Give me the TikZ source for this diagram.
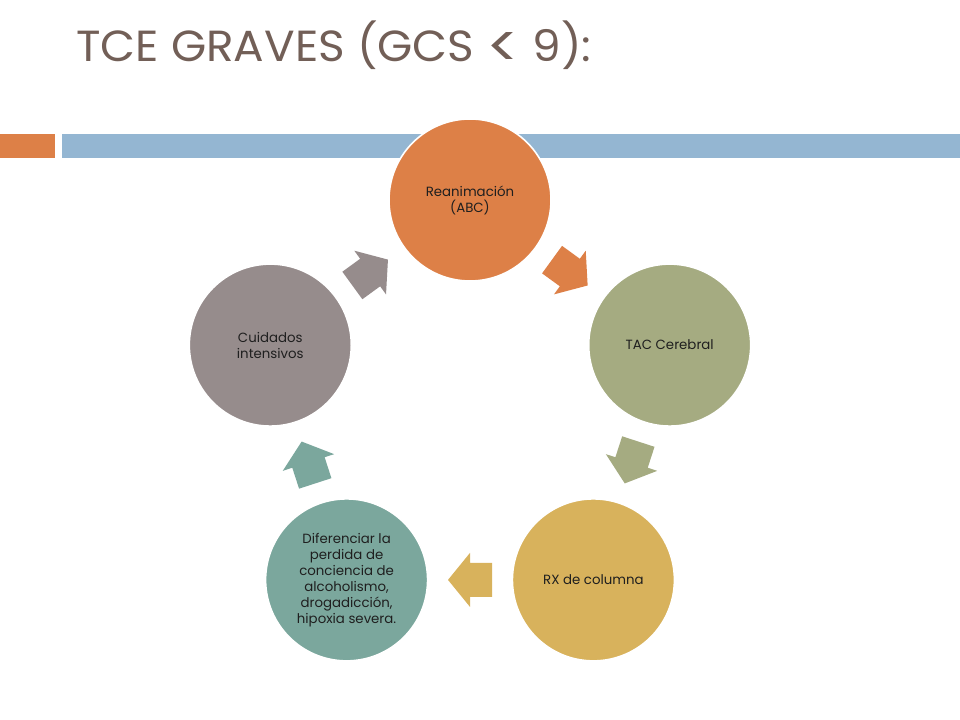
\documentclass[tikz,border=0pt]{standalone}
\usepackage{fontspec}
\setmainfont{Poppins}
\usetikzlibrary{calc}
\definecolor{cOrange}{HTML}{DD8047}
\definecolor{cGreen}{HTML}{A5AB81}
\definecolor{cYellow}{HTML}{D8B25C}
\definecolor{cTeal}{HTML}{7BA79D}
\definecolor{cGray}{HTML}{968C8C}
\definecolor{cBlue}{HTML}{94B6D2}
\definecolor{cTitle}{HTML}{725F57}
\tikzset{
  stepcircle/.style={circle, fill=#1, draw=white, line width=1.2pt,
    minimum size=121.5pt, inner sep=0pt, align=center,
    text=black!88, font=\fontsize{10}{12}\selectfont},
  blockarrow/.style={fill=#1}
}
\newcommand{\myblockarrow}[3]{%
  \fill[blockarrow=#3, shift={(#1)}, rotate=#2]
    (-22,-17) -- (0,-17) -- (0,-27) -- (22,0) -- (0,27) -- (0,17) -- (-22,17) -- cycle;}
\begin{document}
\begin{tikzpicture}[x=0.75pt,y=0.75pt]
\fill[white] (0,0) rectangle (960,720);
\useasboundingbox (0,0) rectangle (960,720);
% title
\node[anchor=base west, inner sep=0pt, text=cTitle] (title) at (76,658)
  {\resizebox{386.25pt}{30.5pt}{TCE GRAVES (GCS \raisebox{-0.12em}{\scalebox{1.35}{<}} 9):}};
% bars
\fill[cOrange] (0,562) rectangle (55,586);
\fill[cBlue] (62,562) rectangle (960,586);
% circles
\node[stepcircle=cOrange] (rea) at (470,520) {Reanimación\\(ABC)};
\node[stepcircle=cGreen] (tac) at (669.7,374.9) {TAC Cerebral};
\node[stepcircle=cYellow] (rx) at (593.4,140.1) {RX de columna};
\node[stepcircle=cTeal] (dif) at (346.6,140.1) {Diferenciar la\\perdida de\\conciencia de\\alcoholismo,\\drogadicción,\\hipoxia severa.};
\node[stepcircle=cGray] (cui) at (270.3,374.9) {Cuidados\\intensivos};
% arrows
\myblockarrow{$(rea)!0.5!(tac)$}{-36}{cOrange}
\myblockarrow{$(tac)!0.5!(rx)$}{-108}{cGreen}
\myblockarrow{$(rx)!0.5!(dif)$}{180}{cYellow}
\myblockarrow{$(dif)!0.5!(cui)$}{108}{cTeal}
\myblockarrow{$(cui)!0.5!(rea)$}{36}{cGray}
\end{tikzpicture}
\end{document}
